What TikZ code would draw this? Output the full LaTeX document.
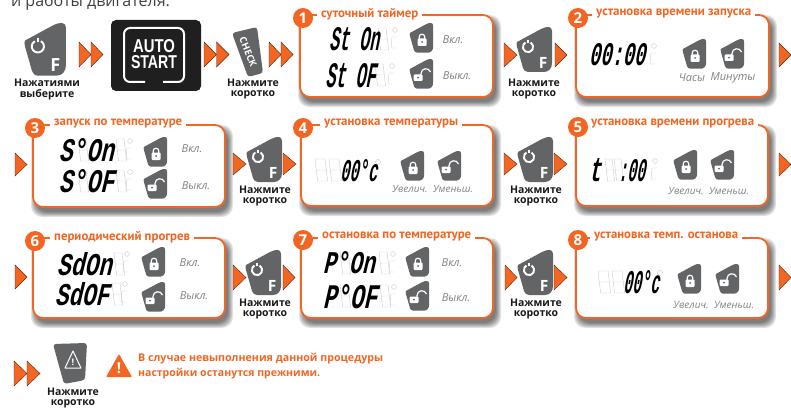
\documentclass[tikz,border=0pt]{standalone}
\usepackage{fontspec}
\usepackage{graphicx}
\setmainfont{Open Sans}
\newfontfamily\lcdfont{Liberation Mono}
\newfontfamily\titlefont{PT Sans}
\newfontfamily\autofont{Liberation Sans}
\definecolor{org}{HTML}{F26522}
\definecolor{keyg}{HTML}{636466}
\definecolor{capg}{HTML}{808285}
\definecolor{ghostc}{HTML}{CFCFCF}
\tikzset{
  orgtri/.style={fill=org,draw=black!60!org,line width=0.4pt},
  captxt/.style={font=\fontsize{11}{12}\selectfont\itshape,text=capg,inner sep=0pt},
  capsmall/.style={font=\fontsize{10}{12}\selectfont\itshape,text=capg,inner sep=0pt},
  presslabel/.style={font=\fontsize{10.5}{12}\selectfont\bfseries,text=black!90,inner sep=0pt},
  ghostline/.style={draw=ghostc,line width=0.45pt},
  whiteline/.style={draw=white,line width=2pt}
}
\newcommand{\tri}[4]{\path[orgtri] (#1,#3) -- (#2,{(#3+#4)/2}) -- (#1,#4) -- cycle;}
\newcommand{\dbl}[4]{\tri{#1}{#2}{#3}{#4}\tri{#2}{{#2+(#2-#1)}}{#3}{#4}}
\newcommand{\keyshape}{(0,15) -- (24,2) .. controls (30,-1) and (35,-1) .. (35,4) -- (35,36) .. controls (35,41) and (32,45) .. (27,45) -- (11,45) .. controls (8,45) and (7,43) .. (6,41) -- (0,20) .. controls (-0.6,18) and (-0.6,16) .. (0,15) -- cycle}
\newcommand{\fkey}[4]{\begin{scope}[shift={(#2,#3)},scale=#4,transform shape]
  \fill[keyg] \keyshape;
  \draw[white,line width=1.9pt] (13.6,15.5) arc[start angle=-60,end angle=240,radius=5.2];
  \draw[white,line width=1.4pt] (11,12.6) -- (11,16);
  \node[inner sep=0pt,text=white,font=\fontsize{15.5}{15}\selectfont\bfseries] (#1) at (26,36) {F};
\end{scope}}
\newcommand{\closedkey}[2]{\begin{scope}[shift={(#1,#2)}]
  \begin{scope}[scale=0.66]\fill[keyg] \keyshape;\end{scope}
  \draw[white,line width=1.2pt] (9.2,16) -- (9.2,14) arc[start angle=180,end angle=360,radius=2.8] -- (14.8,16);
  \fill[white,rounded corners=1] (7.5,15.5) rectangle (16.5,23);
  \fill[keyg] (12,19) circle (1);
\end{scope}}
\newcommand{\openkey}[2]{\begin{scope}[shift={(#1,#2)}]
  \begin{scope}[scale=0.66]\fill[keyg] \keyshape;\end{scope}
  \draw[white,line width=1.2pt] (11,17) -- (11,14.5) .. controls (11,9) and (19,8) .. (20.5,13);
  \fill[white,rounded corners=1] (3.5,15.5) rectangle (12.5,22);
  \fill[keyg] (8,18.7) circle (1);
\end{scope}}
\newcommand{\panel}[4]{%
  \foreach \e in {5,4,3,2,1,0}{\fill[black,opacity=0.11,rounded corners=11]
    ({#1+3-\e},{#2+5-\e}) rectangle ({#3+3+\e},{#4+5+\e});}
  \draw[org,line width=1.8pt,fill=white,rounded corners=10] (#1,#2) rectangle (#3,#4);}
\newcommand{\ptitle}[5]{\node[anchor=west,fill=white,inner xsep=4pt,inner ysep=1pt] (#1) at ({#2-4},#4) {\resizebox{#3pt}{!}{\titlefont\bfseries\textcolor{org}{#5}}};}
\newcommand{\badge}[4]{\fill[org] (#2,#3) circle (10);\node[inner sep=0pt,text=white,font=\fontsize{15}{15}\selectfont\bfseries] (#1) at (#2,#3) {#4};}
\newcommand{\lcd}[6]{\node[anchor=north west,inner sep=0pt,xslant=0.1,transform shape] (#1) at (#2,#3) {\resizebox{#4pt}{#5pt}{\lcdfont\bfseries\itshape #6}};}
\newcommand{\ghostdig}[4]{\begin{scope}[shift={(#1,#2)},xslant=-0.12]
  \path[ghostline] (0,0) rectangle (#3,#4) (0,{#4/2}) -- (#3,{#4/2});\end{scope}}
\newcommand{\ghostend}[2]{\begin{scope}[shift={(#1,#2)}]
  \path[ghostline] (7,3) circle (2.4);
  \path[ghostline] (9,10) -- (4,10) -- (3,21) -- (8,21);\end{scope}}
\newcommand{\ghostbell}[2]{\path[ghostline] (#1,#2) circle (2.6);}
\newcommand{\press}[5]{\node[presslabel] (#1a) at (#2,#3) {#4};\node[presslabel] (#1b) at (#2,{#3+12}) {#5};}
\begin{document}
\begin{tikzpicture}[x=1pt,y=-1pt]
\useasboundingbox (0,0) rectangle (791,409);
\begin{scope}
\clip (0,0) rectangle (791,409);
\node[anchor=base west,inner sep=0pt,text=black!75,font=\fontsize{16}{18}\selectfont] (toptext) at (11,7) {и работы двигателя.};
\end{scope}
% first line devices
\fkey{k0}{25}{23}{1.17}
\press{p0}{47}{83}{Нажатиями}{выберите}
\dbl{79}{91}{42}{67}
\fill[black!88,rounded corners=5] (111,20) rectangle (201,91);
\draw[whiteline,rounded corners=6] (145,82) -- (124,82) -- (124,28) -- (184,28) -- (184,82) -- (163,82);
\node[inner sep=0pt,text=white] (auto) at (154,46) {\resizebox{42pt}{13pt}{\autofont\bfseries AUTO}};
\node[inner sep=0pt,text=white] (start) at (154,62) {\resizebox{46pt}{13pt}{\autofont\bfseries START}};
\dbl{204}{216.5}{42}{67}
\fill[keyg,rounded corners=3] (232,33) -- (257,27) -- (263,73) -- (248,77) -- cycle;
\node[inner sep=0pt,text=white,rotate=-68,font=\fontsize{9.5}{10}\selectfont\bfseries] (check) at (248,52) {CHECK};
\press{p00}{253}{83}{Нажмите}{коротко}
\dbl{269}{281}{42}{67}
% panel 1
\panel{300}{15}{493}{97}
\ptitle{t1}{321}{97}{14}{суточный таймер}
\badge{b1}{303}{18}{1}
\ghostdig{378}{28}{8}{22}\ghostend{388}{27}
\ghostdig{375}{64}{8}{22}\ghostend{385}{63}
\lcd{l1a}{332}{27}{50}{23}{St On}
\lcd{l1b}{329}{63}{50}{24}{St OF}
\closedkey{410}{23}\openkey{410}{59}
\node[captxt] (c1a) at (453,40) {Вкл.};
\node[captxt] (c1b) at (457,76) {Выкл.};
\tri{504}{517}{43}{67}
\fkey{k1}{517}{27}{1}
\press{p1}{534}{83}{Нажмите}{коротко}
\tri{555}{567}{43}{67}
% panel 2
\panel{576}{15}{769}{97}
\ptitle{t2}{596}{155}{14}{установка времени запуска}
\badge{b2}{578}{18}{2}
\ghostend{647}{43}
\lcd{l2}{592}{43}{56}{22}{00:00}
\closedkey{683}{39}\openkey{721}{39}
\node[captxt] (c2a) at (692,78) {Часы};
\node[captxt] (c2b) at (733,78) {Минуты};
\tri{779}{791}{43}{67}
% panel 3
\tri{15}{27}{153}{176}
\panel{33}{125}{225}{207}
\ptitle{t3}{54}{128}{124}{запуск по температуре}
\badge{b3}{35}{128}{3}
\ghostdig{78}{139}{8}{22}\ghostdig{116}{139}{8}{22}\ghostend{123}{138}
\ghostdig{78}{170}{8}{22}\ghostdig{116}{170}{8}{22}\ghostend{123}{169}
\lcd{l3a}{62}{138}{55}{23}{S°On}
\lcd{l3b}{62}{169}{55}{23}{S°OF}
\closedkey{144}{137}\openkey{144}{169}
\node[captxt] (c3a) at (192,149) {Вкл.};
\node[captxt] (c3b) at (196,186) {Выкл.};
\tri{233}{246}{153}{175}
\fkey{k3}{247}{137}{1}
\press{p3}{265}{190}{Нажмите}{коротко}
\tri{283}{296}{153}{175}
% panel 4
\panel{301}{125}{493}{206}
\ptitle{t4}{324}{134}{124}{установка температуры}
\badge{b4}{303}{128}{4}
\ghostdig{315}{159}{10}{22}\ghostdig{329}{159}{10}{22}\ghostbell{378}{162}
\lcd{l4}{343}{159}{37}{22}{00°c}
\closedkey{401}{151}\openkey{438}{151}
\node[capsmall] (c4a) at (410,189) {Увелич.};
\node[capsmall] (c4b) at (453,189) {Уменьш.};
\tri{504}{517}{153}{175}
\fkey{k4}{518}{137}{1}
\press{p4}{536}{190}{Нажмите}{коротко}
\tri{554}{567}{153}{175}
% panel 5
\panel{576}{125}{768}{206}
\ptitle{t5}{591}{163}{124}{установка времени прогрева}
\badge{b5}{578}{127}{5}
\ghostdig{605}{159}{7}{22}\ghostdig{614}{159}{7}{22}\ghostend{648}{158}
\lcd{l5a}{592}{158}{12}{23}{t}
\lcd{l5b}{621}{159}{27}{22}{:00}
\closedkey{674}{150}\openkey{711}{150}
\node[capsmall] (c5a) at (686,191) {Увелич.};
\node[capsmall] (c5b) at (729,191) {Уменьш.};
\tri{779}{791}{153}{176}
% panel 6
\tri{15}{27}{265}{289}
\panel{33}{238}{225}{318}
\ptitle{t6}{54}{136}{237}{периодический прогрев}
\badge{b6}{35}{241}{6}
\ghostdig{114}{253}{8}{22}\ghostend{120}{251}
\ghostdig{112}{283}{8}{22}\ghostend{118}{281}
\lcd{l6a}{60}{252}{55}{23}{SdOn}
\lcd{l6b}{58}{282}{54}{23}{SdOF}
\closedkey{142}{247}\openkey{142}{282}
\node[captxt] (c6a) at (190,263) {Вкл.};
\node[captxt] (c6b) at (194,296) {Выкл.};
\tri{233}{246}{265}{290}
\fkey{k6}{246}{250}{1}
\press{p6}{265}{303}{Нажмите}{коротко}
\tri{283}{295}{265}{290}
% panel 7
\panel{301}{238}{493}{318}
\ptitle{t7}{322}{149}{237}{остановка по температуре}
\badge{b7}{303}{240}{7}
\ghostdig{340}{252}{8}{22}\ghostdig{379}{252}{8}{22}\ghostend{386}{251}
\ghostdig{340}{285}{8}{22}\ghostdig{380}{285}{8}{22}\ghostend{387}{284}
\lcd{l7a}{326}{251}{52}{22}{P°On}
\lcd{l7b}{326}{284}{54}{24}{P°OF}
\closedkey{406}{247}\openkey{406}{281}
\node[captxt] (c7a) at (452,263) {Вкл.};
\node[captxt] (c7b) at (456,298) {Выкл.};
\tri{505}{517}{265}{290}
\fkey{k7}{518}{250}{1}
\press{p7}{536}{303}{Нажмите}{коротко}
\tri{554}{567}{265}{290}
% panel 8
\panel{576}{238}{768}{318}
\ptitle{t8}{594}{144}{237}{установка темп. останова}
\badge{b8}{578}{240}{8}
\ghostdig{598}{271}{10}{22}\ghostdig{612}{271}{10}{22}\ghostbell{660}{273}
\lcd{l8}{626}{270}{36}{23}{00°c}
\closedkey{678}{264}\openkey{716}{264}
\node[capsmall] (c8a) at (691,305) {Увелич.};
\node[capsmall] (c8b) at (734,305) {Уменьш.};
\tri{779}{791}{265}{290}
% bottom
\dbl{14}{27}{361}{386}
\fill[keyg,rounded corners=3] (53,344) -- (87,343) -- (85,380) -- (64,384) -- cycle;
\draw[white,line width=1pt,line join=round] (73,351) -- (81,368) -- (65,368) -- cycle;
\node[inner sep=0pt,text=white,font=\fontsize{9}{9}\selectfont\bfseries] (warnk) at (73,362) {!};
\press{p9}{73}{392}{Нажмите}{коротко}
\fill[org,rounded corners=0.8] (106,377) -- (119,354) -- (132,377) -- cycle;
\node[inner sep=0pt,text=white,font=\fontsize{15}{15}\selectfont\bfseries] (warn) at (119,368) {!};
\node[anchor=west,inner sep=0pt] (w1) at (138,359) {\resizebox{245pt}{!}{\bfseries\textcolor{org}{В случае невыполнения данной процедуры}}};
\node[anchor=west,inner sep=0pt] (w2) at (138,374) {\resizebox{182pt}{!}{\bfseries\textcolor{org}{настройки останутся прежними.}}};
\end{tikzpicture}
\end{document}
